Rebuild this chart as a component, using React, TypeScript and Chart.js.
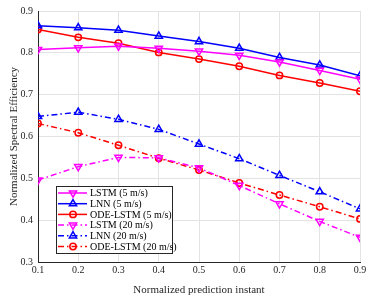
import React, { useEffect, useRef } from "react";
import { Chart, registerables } from "chart.js";
import { drawPoint } from "chart.js/helpers";

Chart.register(...registerables);

const xValues = [0.1, 0.2, 0.3, 0.4, 0.5, 0.6, 0.7, 0.8, 0.9];
const lstm5 = [0.808, 0.812, 0.816, 0.811, 0.804, 0.794, 0.778, 0.758, 0.737];
const lnn5 = [0.865, 0.86, 0.854, 0.84, 0.827, 0.811, 0.789, 0.771, 0.745];
const ode5 = [0.856, 0.837, 0.823, 0.801, 0.785, 0.768, 0.746, 0.728, 0.708];
const lstm20 = [0.496, 0.528, 0.55, 0.549, 0.525, 0.483, 0.439, 0.397, 0.359];
const lnn20 = [0.648, 0.658, 0.641, 0.617, 0.582, 0.547, 0.507, 0.468, 0.427];
const ode20 = [0.631, 0.609, 0.579, 0.548, 0.52, 0.489, 0.46, 0.432, 0.403];
const seriesLabels = [
  "LSTM (5 m/s)",
  "LNN (5 m/s)",
  "ODE-LSTM (5 m/s)",
  "LSTM (20 m/s)",
  "LNN (20 m/s)",
  "ODE-LSTM (20 m/s)",
];
const xTitle = "Normalized prediction instant";
const yTitle = "Normalized Spectral Efficiency";

const FONT = "'Liberation Serif', 'Times New Roman', serif";
const DASHDOT = [6, 3, 1.5, 3];

type Style = { color: string; pointStyle: string; rotation: number; radius: number; dash: number[] };
const styles: Style[] = [
  { color: "#ff00ff", pointStyle: "triangle", rotation: 180, radius: 4.2, dash: [] },
  { color: "#0000ff", pointStyle: "triangle", rotation: 0, radius: 4.2, dash: [] },
  { color: "#ff0000", pointStyle: "circle", rotation: 0, radius: 3.2, dash: [] },
  { color: "#ff00ff", pointStyle: "triangle", rotation: 180, radius: 4.2, dash: DASHDOT },
  { color: "#0000ff", pointStyle: "triangle", rotation: 0, radius: 4.2, dash: DASHDOT },
  { color: "#ff0000", pointStyle: "circle", rotation: 0, radius: 3.2, dash: DASHDOT },
];
const seriesData = [lstm5, lnn5, ode5, lstm20, lnn20, ode20];

const legendPlugin = {
  id: "boxLegend",
  afterDraw(chart: any) {
    const ctx = chart.ctx as CanvasRenderingContext2D;
    const ca = chart.chartArea;
    const bx = ca.left + 18;
    const by = ca.top + 175;
    const bw = 116;
    const bh = 67;
    ctx.save();
    ctx.fillStyle = "#ffffff";
    ctx.fillRect(bx, by, bw, bh);
    ctx.strokeStyle = "#262626";
    ctx.lineWidth = 1;
    ctx.setLineDash([]);
    ctx.strokeRect(bx + 0.5, by + 0.5, bw, bh);
    ctx.font = `10px ${FONT}`;
    ctx.textBaseline = "middle";
    ctx.textAlign = "left";
    styles.forEach((s, i) => {
      const cy = by + 7 + i * 10.7;
      ctx.strokeStyle = s.color;
      ctx.lineWidth = 1.5;
      ctx.setLineDash(s.dash);
      ctx.beginPath();
      ctx.moveTo(bx + 2, cy);
      ctx.lineTo(bx + 31, cy);
      ctx.stroke();
      ctx.setLineDash([]);
      ctx.fillStyle = "rgba(0,0,0,0)";
      drawPoint(
        ctx,
        { pointStyle: s.pointStyle as any, rotation: s.rotation, radius: s.radius, borderWidth: 1.5 },
        bx + 17,
        cy
      );
      ctx.fillStyle = "#000000";
      ctx.fillText(seriesLabels[i], bx + 34, cy + 0.5);
    });
    ctx.restore();
  },
};

export default function App() {
  const ref = useRef<HTMLCanvasElement | null>(null);
  useEffect(() => {
    if (!ref.current) return;
    const chart = new Chart(ref.current, {
      type: "line",
      data: {
        datasets: seriesData.map((vals, i) => ({
          label: seriesLabels[i],
          data: vals.map((v, j) => ({ x: xValues[j], y: v })),
          borderColor: styles[i].color,
          backgroundColor: "rgba(0,0,0,0)",
          borderWidth: 1.5,
          borderDash: styles[i].dash,
          pointStyle: styles[i].pointStyle as any,
          pointRotation: styles[i].rotation,
          pointRadius: styles[i].radius,
          pointBorderWidth: 1.5,
          pointBorderColor: styles[i].color,
          pointBackgroundColor: "rgba(0,0,0,0)",
          tension: 0,
          fill: false,
        })),
      },
      options: {
        animation: false,
        responsive: true,
        maintainAspectRatio: false,
        layout: { padding: { top: 7, right: 14, left: 0, bottom: 0 } },
        plugins: { legend: { display: false }, tooltip: { enabled: false } },
        scales: {
          x: {
            type: "linear",
            min: 0.1,
            max: 0.9,
            afterFit: (s: any) => {
              s.height = 35;
            },
            ticks: {
              stepSize: 0.1,
              color: "#262626",
              font: { family: FONT, size: 10 },
              padding: 2,
              maxRotation: 0,
              callback: (v: any) => Number(v).toFixed(1),
            },
            grid: { color: "#e3e3e3", lineWidth: 1, drawTicks: false },
            border: { color: "#262626", width: 1 },
            title: {
              display: true,
              text: xTitle,
              color: "#262626",
              font: { family: FONT, size: 11 },
              padding: { top: 2, bottom: 0 },
            },
          },
          y: {
            type: "linear",
            min: 0.3,
            max: 0.9,
            afterFit: (s: any) => {
              s.width = 38;
            },
            ticks: {
              stepSize: 0.1,
              color: "#262626",
              font: { family: FONT, size: 10 },
              padding: 5,
              callback: (v: any) => Number(v).toFixed(1),
            },
            grid: { color: "#e3e3e3", lineWidth: 1, drawTicks: false },
            border: { color: "#262626", width: 1 },
            title: {
              display: true,
              text: yTitle,
              color: "#262626",
              font: { family: FONT, size: 11 },
              padding: { top: 8, bottom: 0 },
            },
          },
        },
      },
      plugins: [legendPlugin],
    });
    return () => chart.destroy();
  }, []);
  return (
    <div style={{ position: "fixed", left: 0, top: 0, width: 374, height: 297, background: "#fff" }}>
      <canvas ref={ref} />
    </div>
  );
}
